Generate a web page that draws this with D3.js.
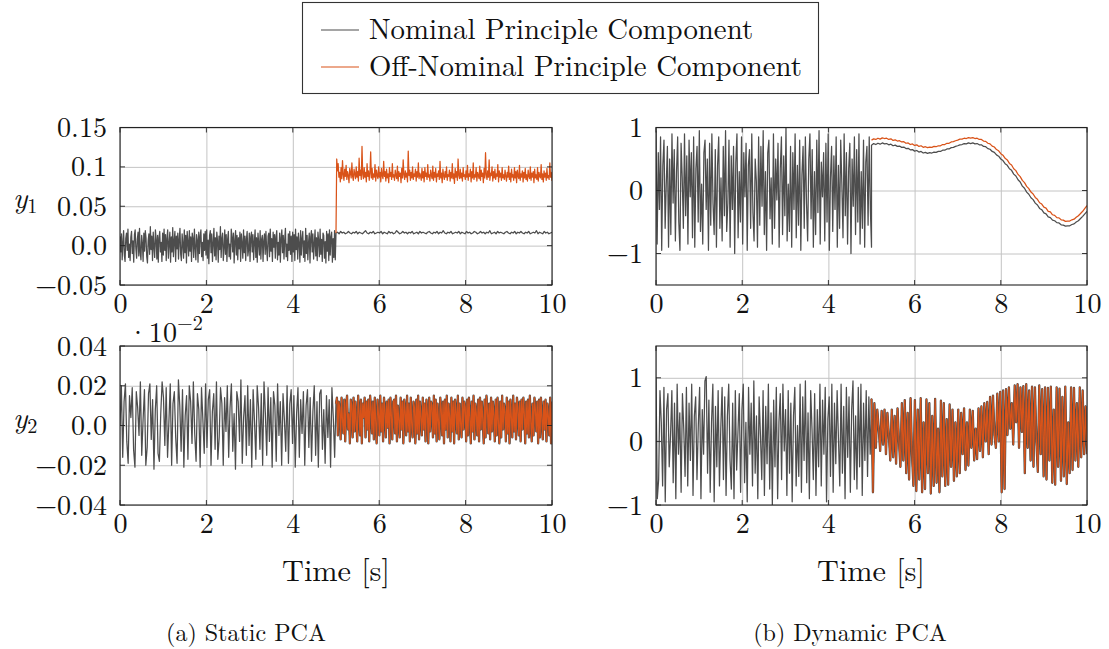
<!DOCTYPE html>
<html>
<head>
<meta charset="utf-8">
<script src="https://cdn.jsdelivr.net/npm/d3@7"></script>
<style>
  html, body { margin: 0; padding: 0; background: #fff; }
  svg { display: block; }
</style>
</head>
<body>
<script>
// ---------------- DATA ----------------
const xTicks = [0, 2, 4, 6, 8, 10];
const legendLabels = ["Nominal Principle Component", "Off-Nominal Principle Component"];
const captions = ["(a) Static PCA", "(b) Dynamic PCA"];
const xLabel = "Time [s]";

const p1Ticks = [-0.05, 0, 0.05, 0.1, 0.15];
const p1TickLabels = ["−0.05", "0.0", "0.05", "0.1", "0.15"];
const p2Ticks = [-1, 0, 1];
const p2TickLabels = ["−1", "0", "1"];
const p3Ticks = [-0.04, -0.02, 0, 0.02, 0.04];
const p3TickLabels = ["−0.04", "−0.02", "0.0", "0.02", "0.04"];
const p4Ticks = [-1, 0, 1];
const p4TickLabels = ["−1", "0", "1"];

// Static PCA, y1 : nominal 0–5 s
const p1Nom05 = [.012,-.008,.015,-.018,.004,.019,-.012,-.02,.009,.016,-.006,.021,-.015,.002,-.019,.011,.018,-.01,.006,-.021,.014,.02,-.004,-.016,.008,.017,-.013,.022,-.009,-.018,.013,.003,-.02,.016,-.007,.019,.01,-.014,-.022,.006,.015,-.011,.024,-.005,.012,-.019,.017,-.002,-.015,.02,.008,-.017,.013,-.021,.01,.018,-.008,.004,-.02,.016,
-.012,.021,-.006,.014,-.019,.009,.02,-.016,.003,.017,-.021,.011,-.008,.023,-.014,.006,.018,-.02,.012,-.004,.016,-.017,.008,.022,-.011,-.019,.015,.002,-.016,.02,-.009,.013,-.022,.018,.005,-.013,.019,-.007,.011,-.02,.016,.009,-.015,.021,-.003,-.018,.014,.007,-.021,.017,-.01,.012,.02,-.014,.004,-.019,.015,-.006,.018,-.012,
.02,-.016,.007,-.023,.013,.019,-.009,.015,-.02,.003,.022,-.013,.01,-.018,.017,.006,-.021,.012,-.005,.024,-.015,.009,.016,-.019,-.003,.02,-.011,.014,-.02,.008,.018,-.014,.002,-.017,.021,.011,-.008,.016,-.022,.006,.019,-.012,.013,-.018,.01,-.004,.017,-.02,.015,.003,-.016,.02,-.009,.012,-.019,.008,.018,-.013,-.005,.016,
-.02,.011,.017,-.008,.014,-.018,.005,.02,-.015,.01,-.021,.016,.003,-.012,.019,-.017,.008,.013,-.02,.006,.015,-.011,.018,-.004,-.019,.012,.016,-.014,.021,-.007,.009,-.02,.017,-.002,.014,-.016,.011,.019,-.018,.004,-.012,.016,-.021,.01,.02,-.009,.013,-.017,.007,.022,-.014,.002,-.019,.015,-.006,.018,-.011,.012,-.02,.017,
-.008,.014,-.019,.021,-.005,.011,-.017,.016,.003,-.021,.019,-.012,.009,.018,-.015,.006,-.02,.022,-.01,.013,-.018,.004,.016,-.022,.011,.019,-.008,.015,-.017,.002,.02,-.013,.01,-.019,.017,.006,-.014,.021,-.011,.008,-.02,.016,.013,-.016,.005,-.022,.018,-.007,.015,-.019,.02,-.012,.011,.017,-.021,.009,-.015,.019,-.018,.016];
// Static PCA, y1 : nominal 5–10 s
const p1Nom510 = [.016,.017,.015,.018,.016,.017,.015,.016,.018,.016,.015,.017,.016,.018,.015,.017,.016,.015,.017,.019,.016,.015,.017,.016,.018,.015,.016,.017,.016,.018,
.015,.017,.016,.015,.018,.016,.017,.015,.016,.019,.017,.015,.016,.018,.016,.017,.015,.017,.016,.018,.015,.016,.017,.015,.018,.016,.017,.016,.015,.017,
.018,.016,.015,.017,.016,.018,.015,.017,.016,.019,.016,.015,.017,.016,.018,.015,.016,.017,.016,.018,.015,.017,.016,.015,.018,.016,.017,.015,.016,.018,
.017,.015,.016,.018,.016,.017,.015,.017,.016,.019,.015,.016,.017,.015,.018,.016,.017,.016,.015,.017,.018,.016,.015,.017,.016,.018,.015,.017,.016,.018,
.016,.015,.017,.016,.018,.015,.016,.017,.016,.019,.015,.017,.016,.015,.018,.016,.017,.015,.016,.017];
// Static PCA, y1 : off-nominal 5–10 s
const p1Off510 = [.016,.11,.095,.104,.087,.093,.081,.099,.085,.108,.09,.083,.097,.088,.102,.084,.094,.089,.08,.098,.092,.086,.105,.088,.083,.097,.091,.085,.1,.087,.094,.082,.111,.089,.096,.084,.126,.09,.085,.099,.087,.093,.081,.104,.088,.095,.083,.092,.119,.086,.098,.084,.091,.087,.103,.082,.096,.089,.085,.1,
.087,.093,.081,.098,.089,.085,.107,.088,.094,.082,.097,.086,.091,.08,.099,.088,.093,.084,.104,.087,.09,.083,.096,.089,.085,.101,.082,.094,.088,.092,.08,.098,.086,.109,.09,.084,.095,.087,.092,.081,.12,.089,.096,.083,.093,.086,.1,.084,.091,.088,.097,.082,.094,.087,.105,.085,.092,.089,.083,.098,
.086,.094,.081,.099,.088,.092,.084,.103,.087,.09,.082,.096,.089,.085,.101,.083,.093,.087,.098,.081,.091,.088,.095,.084,.107,.086,.092,.08,.097,.089,.084,.094,.087,.1,.083,.09,.088,.096,.082,.093,.086,.104,.085,.091,.079,.098,.087,.094,.083,.11,.089,.085,.097,.086,.092,.082,.099,.088,.09,.084,
.095,.087,.102,.083,.091,.088,.097,.081,.094,.086,.105,.084,.09,.087,.099,.082,.093,.089,.085,.101,.083,.096,.088,.092,.08,.098,.086,.118,.09,.084,.095,.087,.109,.083,.092,.089,.1,.082,.094,.086,.097,.084,.091,.088,.103,.081,.095,.087,.092,.083,.099,.086,.09,.084,.096,.088,.082,.093,.087,.101,
.084,.092,.081,.097,.087,.09,.083,.099,.086,.094,.08,.096,.088,.085,.102,.083,.091,.087,.095,.081,.093,.086,.098,.084,.09,.082,.096,.088,.085,.1,.083,.092,.087,.094,.08,.097,.086,.09,.084,.099,.082,.093,.088,.086,.103,.084,.091,.081,.095,.087,.092,.083,.098,.086,.089,.084,.105,.087,.093,.082];

// Dynamic PCA, y1 : nominal 0–5 s
const p2Nom05 = [.95,-.85,.6,-.3,.85,-.95,.4,.8,-.6,.1,.7,-.9,.5,-.7,.9,-.2,.65,-.8,.3,.85,-.5,-.95,.75,.2,-.6,.9,-.4,.55,-.85,.8,
-.1,.6,-.75,.85,-.9,.35,.7,-.5,.95,-.65,.1,-.85,.6,.8,-.3,.5,-.95,.75,-.55,.9,-.2,-.7,.65,-.9,.4,.85,-.6,.2,-.8,.7,
-.4,.95,-.65,-.2,.8,-.9,.55,-.3,.7,-1.0,.45,.9,-.75,.3,-.5,.85,-.85,.6,-.1,.75,-.95,.4,.65,-.6,.9,-.35,-.8,.5,.15,-.9,
.85,-.55,.7,-.25,.95,-.7,.3,-.95,.6,.8,-.45,.2,-.85,.9,-.6,.5,-.15,.75,-.9,.35,.85,-.7,.55,-.4,1.0,-.8,.1,-.65,.7,-.9,
.6,-.3,.9,-.75,.4,-.55,.8,-.95,.25,.7,-.6,.85,-.2,-.8,.5,.9,-.45,.65,-.9,.3,-.7,.8,-.35,.95,-.85,.45,-.1,.6,-.8,.75,
-.5,.9,-.95,.2,.7,-.65,.55,-.3,.85,-.9,.4,-.6,.8,.1,-.75,.9,-.4,.6,-.85,.35,.75,-1.0,.5,-.25,.85,-.7,.65,-.5,.9,-.85,
.3,-.6,.8,-.9,.45,.7,-.55,.85,-.3,-.9];
// Dynamic PCA, y1 : nominal 5–10 s
const p2Nom510 = [.72,.745,.73,.75,.735,.755,.74,.745,.725,.735,.71,.72,.70,.705,.685,.69,.665,.67,.645,.65,
.625,.635,.61,.62,.595,.605,.59,.6,.595,.61,.605,.62,.62,.64,.64,.66,.66,.68,.685,.70,
.71,.725,.73,.745,.74,.755,.745,.755,.74,.745,.725,.725,.70,.695,.665,.655,.62,.605,.565,.545,
.5,.475,.425,.4,.345,.32,.26,.23,.17,.135,.07,.035,-.025,-.06,-.115,-.145,-.2,-.23,-.285,-.305,
-.355,-.37,-.42,-.43,-.47,-.48,-.51,-.515,-.545,-.55,-.565,-.56,-.56,-.54,-.53,-.5,-.48,-.445,-.41,-.37,-.33];
// Dynamic PCA, y1 : off-nominal 5–10 s
const p2Off510 = [.8,.82,.81,.83,.815,.835,.825,.83,.81,.82,.795,.805,.785,.79,.77,.775,.75,.755,.73,.74,
.715,.725,.70,.71,.685,.695,.68,.69,.685,.70,.695,.71,.71,.73,.73,.75,.75,.77,.775,.79,
.80,.815,.815,.83,.825,.84,.83,.84,.825,.83,.81,.81,.785,.78,.75,.74,.705,.69,.65,.63,
.585,.56,.51,.485,.43,.405,.345,.315,.255,.22,.16,.125,.065,.03,-.025,-.055,-.11,-.14,-.195,-.215,
-.265,-.28,-.33,-.34,-.385,-.395,-.43,-.435,-.465,-.47,-.49,-.485,-.485,-.465,-.455,-.425,-.4,-.365,-.33,-.285,-.24];

// Static PCA, y2 : nominal 0–5 s
const p3Nom05 = [.0,.02,-.016,.012,.021,-.008,-.019,.015,.004,.019,-.012,-.021,.017,.009,-.005,.022,-.015,.003,.018,-.02,-.011,.016,.021,-.007,.013,-.022,.008,.02,-.014,-.018,.006,.022,.014,-.01,.019,-.016,.002,.021,-.02,.011,.017,-.006,-.019,.023,.01,-.013,.018,-.021,.005,.015,
-.017,.02,.012,-.009,.022,-.004,-.018,.016,.008,-.021,.019,.003,-.014,.021,-.011,.013,.018,-.02,.007,.016,-.012,.022,-.017,-.006,.019,.011,-.02,.014,-.003,.02,-.016,.009,.021,-.013,.006,-.022,.017,.012,-.008,.023,-.019,.004,.015,-.015,.02,-.01,.013,-.021,.018,.002,
-.017,.02,.009,-.012,.016,-.02,.022,.006,-.015,.019,-.008,.014,-.021,.017,.01,-.018,.021,-.005,.012,-.02,.016,.003,-.013,.02,-.019,.011,.018,-.009,.015,-.021,.006,.019,-.016,.013,-.004,.017,-.02,.01,.018,-.011,.014,-.018,.007,.02,-.015,.012,-.021,.016,.018,-.012,
.008,-.019,.015,-.006,.013,-.021,.019,.004,-.016,.012];
// Static PCA, y2 : off-nominal 5–10 s (nominal coincides)
const p3Off510 = [.011,.014,-.005,.012,.009,-.007,.014,.003,-.004,.013,-.008,.011,.015,-.002,.006,-.009,.013,.01,-.006,.014,-.003,.012,.001,-.008,.015,.007,-.005,.013,-.009,.011,
.004,.014,-.006,.012,-.002,.013,-.008,.015,.009,-.004,.012,-.007,.014,.002,-.009,.013,.006,-.005,.015,-.003,.011,-.008,.014,.008,-.006,.012,-.001,.013,-.009,.014,
.005,-.007,.012,.013,-.004,.015,-.008,.01,.003,-.006,.014,-.002,.012,-.009,.013,.007,-.005,.015,-.003,.011,-.008,.014,.001,-.006,.012,.009,-.009,.013,-.004,.015,
-.007,.012,.004,-.005,.014,-.002,.011,-.008,.013,.006,-.009,.014,-.003,.012,.01,-.006,.015,-.004,.013,-.008,.011,.002,-.007,.014,.008,-.005,.012,-.009,.013,-.002,
.015,-.006,.011,.005,-.008,.014,-.003,.012,-.009,.013,.007,-.004,.015,-.007,.011,.001,-.006,.014,-.002,.012,.009,-.008,.013,-.005,.014,.004,-.009,.012,-.003,.015,
-.007,.011,.006,-.005,.013,-.008,.014,-.002,.012,.003,-.009,.013,-.006,.015,.008,-.004,.011,-.007,.014,-.003,.012,.005,-.008,.013,-.005,.014,.001,-.009,.012,-.006,
.015,-.002,.011,.007,-.008,.014,-.004,.012,-.009,.013,.004,-.006,.015,-.003,.011,-.007,.014,.009,-.005,.012,-.008,.013,-.002,.014,.006,-.009,.012,-.004,.013,-.006,
.015,.002,-.008,.011,-.005,.014,.008,-.003,.012,-.009,.013,-.006,.014,.004,-.007,.012,-.002,.013,-.008,.011,.005,-.005,.014,-.009,.012];

// Dynamic PCA, y2 : nominal 0–5 s
const p4Nom05 = [1.0,-.9,-.6,.8,.3,-.7,.85,-.95,.5,.75,-.4,.1,.8,-.65,.6,-.9,.9,-.2,.45,-.8,.75,.2,-.55,.85,-.7,.6,-.3,.9,-.85,.4,
.7,-.6,.25,.85,-.9,.5,-.2,.95,1.02,-.5,.65,-.8,.3,.9,-.95,.55,-.4,.8,-.7,.2,.85,-.6,.7,-.85,.4,.9,-.3,-.75,.6,-.9,
.8,-.45,.15,.75,-.8,.5,.9,-.65,.3,-.95,.85,-.2,.6,-.7,.95,-.5,.4,-.9,.7,.1,-.6,.8,-.85,.55,-.35,.9,-.75,.45,-1.0,.65,
-.4,.85,-.9,.3,.75,-.6,.9,-.15,.5,-.85,.8,-.5,.6,-.95,.4,.85,-.7,.25,-.55,.9,-.8,.7,-.3,.95,-.65,.45,-.9,.8,.2,-.6,
.75,-.85,.5,-.4,.9,-.7,.65,-.2,.85,-.95,.35,.7,-.55,.9,-.8,.6,-.35,.8,.05,-.7,.9,-.5,.55,-.9,.85,-.25,.7,-.8,.5,.95,
-.6,.4,-.75,.85,-.4,.9,-.85,.6,-.3,.8,-.55,.7,-.2,.5];
// Dynamic PCA, y2 : off-nominal 5–10 s (nominal coincides)
const p4Off510 = [.67,-.8,.6,-.1,.5,.2,-.15,.48,-.05,.5,-.2,.45,.1,-.3,.5,-.25,.4,-.35,.52,.0,-.4,.6,-.3,.65,-.5,.45,-.6,.68,-.2,-.7,
  .65,-.78,.5,-.6,.68,-.8,.3,-.75,.66,-.5,.6,-.82,.4,-.7,.67,-.65,.2,-.8,.64,-.55,.6,-.7,.35,-.68,.58,-.4,.5,-.62,.3,-.55,
  .5,-.5,.45,-.2,.52,-.45,.3,-.38,.5,-.1,.48,-.3,.2,-.28,.52,-.15,.55,-.25,.6,.0,.62,-.2,.7,-.05,.72,.1,-.1,.75,.0,.78,
  -.8,.8,-.75,.82,.1,.85,.2,.6,-.05,.88,.3,.9,-.1,.85,.15,.87,-.5,.9,-.1,.8,-.3,.86,-.4,.85,.0,-.48,.88,-.2,.82,-.55,
  .85,-.6,.84,-.3,.86,-.65,.5,-.68,.85,-.4,.83,-.62,.7,-.55,.86,-.67,.3,-.5,.85,-.45,.84,-.3,.6,-.4,.85,-.25,.8,-.2,.55,-.2];

// ---------------- STYLE / LAYOUT ----------------
const W = 1109, H = 649;
const GRAY = "#4d4d4d", ORANGE = "#d95319";

const svg = d3.select("body").append("svg").attr("width", W).attr("height", H);

// pick the first installed serif face (width differs from the monospace fallback)
function textW(str, fam) {
  const t = svg.append("text").attr("font-size", 100).style("font-family", fam).text(str);
  const w = t.node().getComputedTextLength();
  t.remove();
  return w;
}
const probe = "Time [s] Off-Nominal Wim 0.15";
const mono = textW(probe, "monospace");
const candidates = ["Latin Modern Roman", "CMU Serif", "Liberation Serif", "DejaVu Serif", "Noto Serif",
  "Times New Roman", "Tinos", "FreeSerif", "Nimbus Roman", "Nimbus Roman No9 L", "Georgia",
  "Noto Serif CJK SC", "Noto Serif CJK JP", "Source Serif Pro", "Bitstream Vera Serif", "Times"];
let FONT = "serif";
for (const c of candidates) {
  if (Math.abs(textW(probe, `"${c}", monospace`) - mono) > 0.5) { FONT = `"${c}", serif`; break; }
}
svg.style("font-family", FONT);

function fitSize(str, targetW) {
  const w = textW(str, FONT);
  return 100 * targetW / w;
}
const TICK_FS = fitSize("0.15", 50);
const LEG_FS = fitSize(legendLabels[1], 433);
const CAP_FS = fitSize(captions[0], 160);
const TITLE_FS = fitSize(xLabel, 108);

const panels = [
  { id: "p1", box: [120, 552, 127.5, 285], dom: [-0.05, 0.15], ticks: p1Ticks, labels: p1TickLabels,
    series: [ { segs: [[p1Nom05, 0, 5], [p1Nom510, 5, 10]], color: GRAY },
              { segs: [[p1Off510, 5, 10]], color: ORANGE } ] },
  { id: "p2", box: [656, 1087, 127.5, 285], dom: [-1.5, 1], ticks: p2Ticks, labels: p2TickLabels,
    series: [ { segs: [[p2Nom05, 0, 5], [p2Nom510, 5, 10]], color: GRAY },
              { segs: [[p2Off510, 5, 10]], color: ORANGE } ] },
  { id: "p3", box: [120, 552, 346, 505], dom: [-0.04, 0.04], ticks: p3Ticks, labels: p3TickLabels,
    series: [ { segs: [[p3Nom05, 0, 5], [p3Off510, 5, 10]], color: GRAY },
              { segs: [[p3Off510, 5, 10]], color: GRAY, width: 2.3 },
              { segs: [[p3Off510, 5, 10]], color: ORANGE } ] },
  { id: "p4", box: [656, 1087, 346, 505], dom: [-1, 1.5], ticks: p4Ticks, labels: p4TickLabels,
    series: [ { segs: [[p4Nom05, 0, 5], [p4Off510, 5, 10]], color: GRAY },
              { segs: [[p4Off510, 5, 10]], color: GRAY, width: 2.3 },
              { segs: [[p4Off510, 5, 10]], color: ORANGE } ] }
];

panels.forEach(p => {
  const [x0, x1, y0, y1] = p.box;
  const x = d3.scaleLinear().domain([0, 10]).range([x0, x1]);
  const y = d3.scaleLinear().domain(p.dom).range([y1, y0]);
  const g = svg.append("g");

  g.append("clipPath").attr("id", "clip-" + p.id)
    .append("rect").attr("x", x0).attr("y", y0).attr("width", x1 - x0).attr("height", y1 - y0);

  // grid
  const gx = g.append("g").attr("transform", `translate(0,${y1})`)
    .call(d3.axisBottom(x).tickValues(xTicks).tickSize(-(y1 - y0)).tickFormat(""));
  gx.select(".domain").remove();
  gx.selectAll("line").attr("stroke", "#c4c4c4").attr("stroke-width", 1);
  const gy = g.append("g").attr("transform", `translate(${x0},0)`)
    .call(d3.axisLeft(y).tickValues(p.ticks).tickSize(-(x1 - x0)).tickFormat(""));
  gy.select(".domain").remove();
  gy.selectAll("line").attr("stroke", "#c4c4c4").attr("stroke-width", 1);

  // data
  const plot = g.append("g").attr("clip-path", `url(#clip-${p.id})`);
  p.series.forEach(s => {
    let pts = [];
    s.segs.forEach(([arr, t0, t1]) => {
      arr.forEach((v, i) => pts.push([t0 + (t1 - t0) * i / (arr.length - 1), v]));
    });
    plot.append("path").datum(pts)
      .attr("fill", "none").attr("stroke", s.color).attr("stroke-width", s.width || 1.25)
      .attr("stroke-linejoin", "round")
      .attr("d", d3.line().x(d => x(d[0])).y(d => y(d[1])));
  });

  // inner ticks on all sides
  const tk = 5;
  const tg = g.append("g").attr("stroke", "#222").attr("stroke-width", 0.9);
  xTicks.forEach(t => {
    tg.append("line").attr("x1", x(t)).attr("x2", x(t)).attr("y1", y1).attr("y2", y1 - tk);
    tg.append("line").attr("x1", x(t)).attr("x2", x(t)).attr("y1", y0).attr("y2", y0 + tk);
  });
  p.ticks.forEach(t => {
    tg.append("line").attr("x1", x0).attr("x2", x0 + tk).attr("y1", y(t)).attr("y2", y(t));
    tg.append("line").attr("x1", x1).attr("x2", x1 - tk).attr("y1", y(t)).attr("y2", y(t));
  });

  // frame
  g.append("rect").attr("x", x0).attr("y", y0).attr("width", x1 - x0).attr("height", y1 - y0)
    .attr("fill", "none").attr("stroke", "#222").attr("stroke-width", 1.1);

  // tick labels
  const lx = g.append("g").attr("transform", `translate(0,${y1})`)
    .call(d3.axisBottom(x).tickValues(xTicks).tickSize(0).tickPadding(8).tickFormat(d3.format("d")));
  lx.select(".domain").remove();
  lx.attr("font-family", null).attr("font-size", TICK_FS);
  lx.selectAll("text").attr("fill", "#111");
  const ly = g.append("g").attr("transform", `translate(${x0},0)`)
    .call(d3.axisLeft(y).tickValues(p.ticks).tickSize(0).tickPadding(13)
      .tickFormat((d, i) => p.labels[i]));
  ly.select(".domain").remove();
  ly.attr("font-family", null).attr("font-size", TICK_FS);
  ly.selectAll("text").attr("fill", "#111");
});

// axis titles
[[336, 581], [871, 581]].forEach(([cx, by]) => {
  svg.append("text").attr("x", cx).attr("y", by).attr("text-anchor", "middle")
    .attr("font-size", TITLE_FS).attr("fill", "#111").text(xLabel);
});
// y labels
[["1", 208], ["2", 428]].forEach(([sub, by]) => {
  const t = svg.append("text").attr("x", 13).attr("y", by).attr("fill", "#111");
  t.append("tspan").attr("font-size", TICK_FS * 1.05).attr("font-style", "italic").text("y");
  t.append("tspan").attr("font-size", TICK_FS * 0.72).attr("dy", 5).text(sub);
});
// scale multiplier
{
  const t = svg.append("text").attr("x", 127).attr("y", 342).attr("fill", "#111");
  t.append("tspan").attr("font-size", TICK_FS).text("·10");
  t.append("tspan").attr("font-size", TICK_FS * 0.72).attr("dy", -12).text("−2");
}
// captions
[[246, 641, captions[0]], [850, 641, captions[1]]].forEach(([cx, by, s]) => {
  svg.append("text").attr("x", cx).attr("y", by).attr("text-anchor", "middle")
    .attr("font-size", CAP_FS).attr("fill", "#111").text(s);
});

// legend
svg.append("rect").attr("x", 302.5).attr("y", 2.5).attr("width", 516).attr("height", 91)
  .attr("fill", "#fff").attr("stroke", "#333").attr("stroke-width", 1.1);
[[GRAY, 30, 39], [ORANGE, 67, 76]].forEach(([c, ly, by], i) => {
  svg.append("line").attr("x1", 321).attr("x2", 359).attr("y1", ly).attr("y2", ly)
    .attr("stroke", c).attr("stroke-width", 1.2);
  svg.append("text").attr("x", 369).attr("y", by).attr("font-size", LEG_FS).attr("fill", "#111")
    .text(legendLabels[i]);
});
</script>
</body>
</html>
